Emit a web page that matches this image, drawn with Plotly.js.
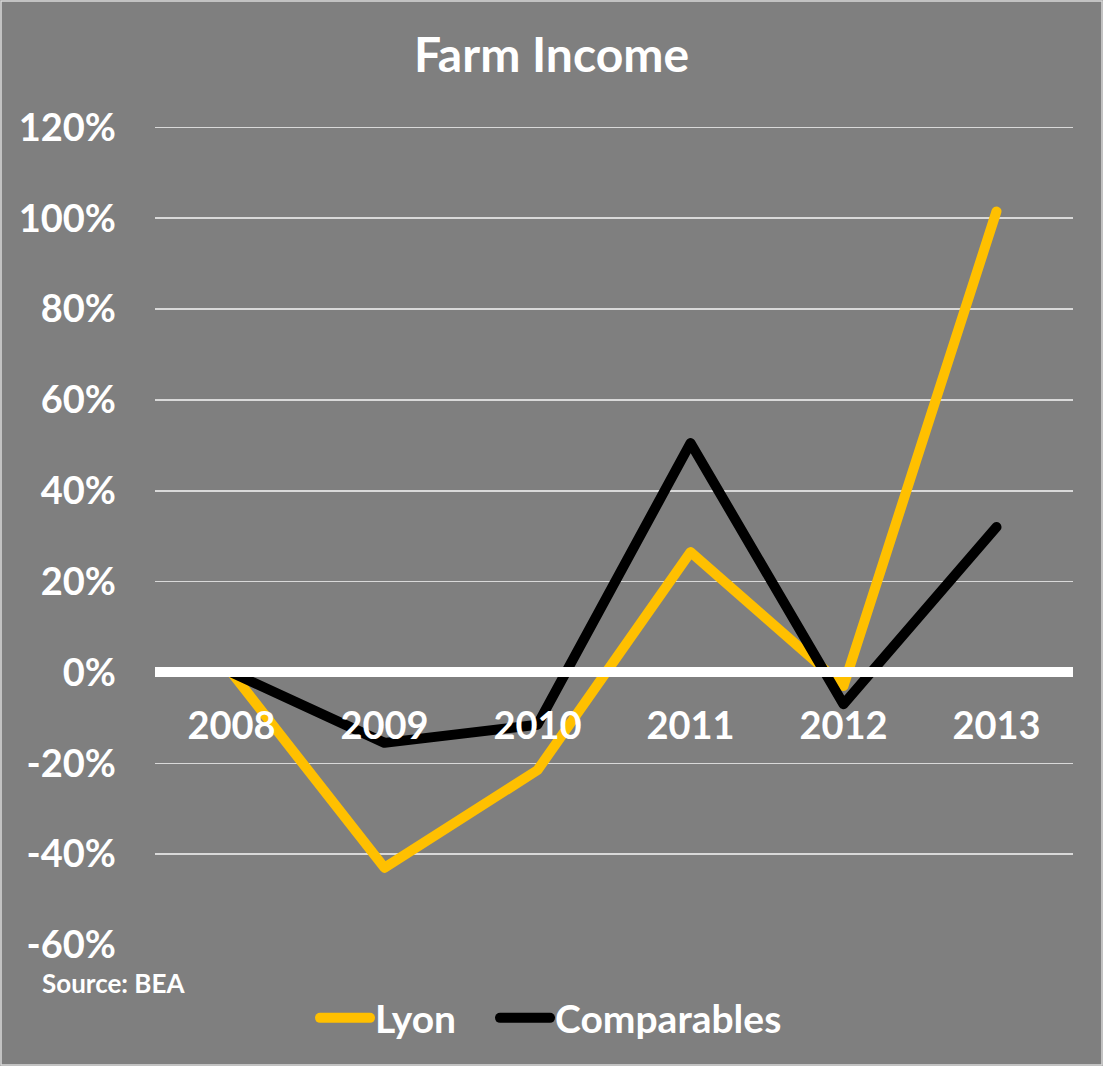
<!DOCTYPE html>
<html>
<head>
<meta charset="utf-8">
<script src="https://cdn.plot.ly/plotly-3.0.1.min.js"></script>
<style>
html,body{margin:0;padding:0;background:#7f7f7f;}
#chart{width:1103px;height:1066px;}
.scatterlayer path.js-line, .legendlines path{stroke-linejoin:round;stroke-linecap:round;}
</style>
</head>
<body>
<div id="chart"></div>
<script>
const years = ['2008', '2009', '2010', '2011', '2012', '2013'];
const lyon = [0, -43, -21.5, 26.5, -3, 101.5];
const comparables = [0, -15.5, -11.5, 50.5, -7, 32];
const yTicks = [-60, -40, -20, 0, 20, 40, 60, 80, 100, 120];
const yTickText = ['-60%', '-40%', '-20%', '0%', '20%', '40%', '60%', '80%', '100%', '120%'];

const font = {family: 'Lato, "Open Sans", sans-serif', color: '#ffffff', weight: 700};

const traces = [
  {x: years, y: lyon, name: 'Lyon', type: 'scatter', mode: 'lines', legend: 'legend',
   line: {color: '#ffc000', width: 10}},
  {x: years, y: comparables, name: 'Comparables', type: 'scatter', mode: 'lines', legend: 'legend2',
   line: {color: '#000000', width: 10}}
];

const legendBase = {orientation: 'h', xref: 'container', xanchor: 'left',
                    yref: 'container', y: 1 - 1018/1066, yanchor: 'middle',
                    bgcolor: 'rgba(0,0,0,0)', borderwidth: 0,
                    font: Object.assign({}, font, {size: 39}), itemwidth: 50};

const layout = {
  width: 1103, height: 1066,
  paper_bgcolor: '#7f7f7f', plot_bgcolor: '#7f7f7f',
  margin: {l: 155, r: 30, t: 126, b: 121},
  font: font,
  title: {text: 'Farm Income', font: Object.assign({}, font, {size: 48}),
          x: 0.5, xref: 'container', y: 1 - 55/1066, yref: 'container', yanchor: 'middle'},
  xaxis: {type: 'category', range: [-0.5, 5.5], anchor: 'free', position: 1/3,
          showgrid: false, showline: false, zeroline: false, ticks: '',
          ticklabelstandoff: 28, layer: 'above traces',
          tickfont: Object.assign({}, font, {size: 38})},
  yaxis: {range: [-60, 120.3], tickvals: yTicks, ticktext: yTickText,
          showgrid: true, gridcolor: '#d9d9d9', gridwidth: 1.5,
          zeroline: true, zerolinecolor: '#ffffff', zerolinewidth: 10,
          zerolinelayer: 'above traces', layer: 'above traces',
          showline: false, ticks: '', ticklabelstandoff: 38,
          tickfont: Object.assign({}, font, {size: 38})},
  showlegend: true,
  legend: Object.assign({}, legendBase, {x: 315/1103}),
  legend2: Object.assign({}, legendBase, {x: 495/1103}),
  annotations: [{text: 'Source: BEA', xref: 'paper', yref: 'paper',
                 x: (40 - 155)/918, y: (945 - 983)/819, xanchor: 'left', yanchor: 'middle',
                 showarrow: false, font: Object.assign({}, font, {size: 26})}],
  shapes: [{type: 'rect', xref: 'paper', yref: 'paper',
            x0: (1 - 155)/918, x1: (1102 - 155)/918,
            y0: (945 - 1065)/819, y1: (945 - 1)/819,
            line: {color: '#d9d9d9', width: 1.5}, fillcolor: 'rgba(0,0,0,0)', layer: 'below'}]
};

Plotly.newPlot('chart', traces, layout, {displayModeBar: false, staticPlot: true});
</script>
</body>
</html>
